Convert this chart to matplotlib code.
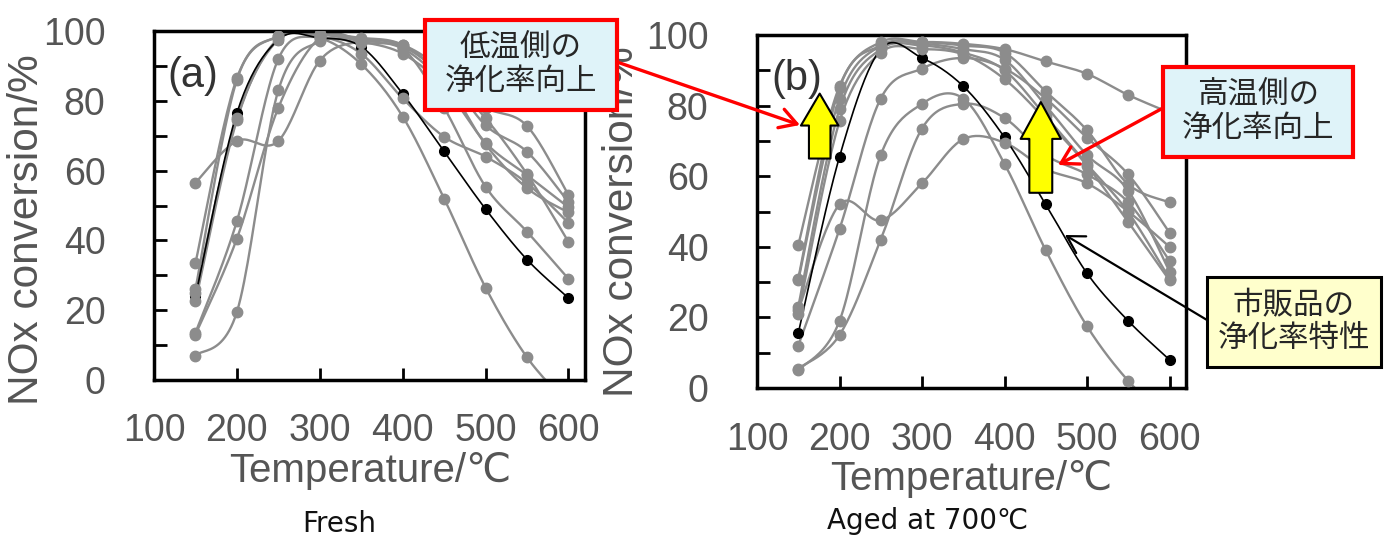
import numpy as np
import matplotlib
matplotlib.use("Agg")
import matplotlib.pyplot as plt
from matplotlib.patches import Rectangle, FancyArrowPatch

# ---------------- data ----------------
temps = [150, 200, 250, 300, 350, 400, 450, 500, 550, 600]
x_ticks = [100, 200, 300, 400, 500, 600]
y_ticks = [0, 20, 40, 60, 80, 100]

# (a) Fresh
fresh_commercial = [24, 76.5, 97.5, 98, 95.5, 82, 65.5, 49, 34.5, 23.5]
fresh_1 = [56.5, 68.5, 68.5, 91.5, 97, 96, 88, 73, 65.4, 51]
fresh_2 = [33.5, 86.5, 98.5, 99, 97.5, 95, 86, 78, 72.8, 53]
fresh_3 = [26, 86, 98.5, 99, 97, 93.5, 84, 68, 58.7, 49.5]
fresh_4 = [22.5, 74.5, 98, 98.5, 93.5, 80.7, 69.7, 64, 56.4, 45]
fresh_5 = [13.5, 45.5, 92, 98.5, 98, 96, 86, 67.5, 55, 48]
fresh_6 = [13, 40.5, 78, 98, 97.5, 95, 78, 55.4, 42.5, 29]
fresh_7 = [7, 19.5, 83, 97, 96.5, 95.5, 87, 75, 59, 39.6]
fresh_8 = [25, 75, 97.5, 98, 90.5, 75.5, 52, 26.5, 6.5, -7]

# (b) Aged at 700 C
aged_commercial = [15.5, 65.5, 96, 93.5, 85.5, 71, 52, 32.5, 19, 8]
aged_1 = [31, 85, 97, 98, 97.5, 96, 92.5, 89, 83, 78]
aged_2 = [5, 19, 66, 80.5, 82, 63.5, 39, 17.5, 2, -9]
aged_3 = [22, 52, 47.5, 58, 70.5, 69.5, 62, 58, 50, 40]
aged_4 = [5.5, 15, 42, 73.5, 80.5, 76.5, 66, 60.5, 52.6, 36]
aged_5 = [12, 45, 82, 90.5, 93.5, 90.5, 82, 70.9, 60.5, 44]
aged_6 = [40.5, 85.5, 98, 98, 97, 95, 84, 73, 57.7, 52.6]
aged_7 = [30.5, 82, 97, 97.5, 96, 93, 80, 66, 55.9, 33]
aged_8 = [23, 79, 96, 97, 95, 90, 77, 63.4, 49.8, 31]
aged_9 = [21, 75.5, 95, 96, 94.5, 87.5, 76, 63, 47, 30.5]

fresh_gray = [fresh_1, fresh_2, fresh_3, fresh_4, fresh_5, fresh_6, fresh_7, fresh_8]
aged_gray = [aged_1, aged_2, aged_3, aged_4, aged_5, aged_6, aged_7, aged_8, aged_9]

# ---------------- style ----------------
plt.rcParams['font.family'] = ['Liberation Sans', 'DejaVu Sans']
CJK = ['Noto Sans CJK JP', 'DejaVu Sans']
GRAY = '#8c8c8c'
TXT = '#555555'

W, H = 1384, 538
fig = plt.figure(figsize=(W / 100, H / 100), dpi=100)


def fx(px):
    return px / W


def fy(py):
    return 1 - py / H


def smooth(x, y, n=24):
    """Excel-style smoothed line (Bezier through the points)."""
    P = np.column_stack([np.asarray(x, float), np.asarray(y, float)])
    out = [P[0]]
    t = np.linspace(0, 1, n)[1:, None]
    for i in range(len(P) - 1):
        p0 = P[i - 1] if i > 0 else P[i]
        p1, p2 = P[i], P[i + 1]
        p3 = P[i + 2] if i + 2 < len(P) else P[i + 1]
        c1 = p1 + (p2 - p0) / 6
        c2 = p2 - (p3 - p1) / 6
        B = (1 - t) ** 3 * p1 + 3 * (1 - t) ** 2 * t * c1 + 3 * (1 - t) * t ** 2 * c2 + t ** 3 * p2
        out.extend(B)
    out = np.array(out)
    return out[:, 0], out[:, 1]


def make_axes(l, t, r, b, xpad, ypad):
    ax = fig.add_axes([fx(l), fy(b), (r - l) / W, (b - t) / H])
    ax.set_xlim(100, 620)
    ax.set_ylim(0, 100)
    ax.set_xticks(x_ticks)
    ax.set_yticks(y_ticks)
    ax.set_yticks([10, 30, 50, 70, 90], minor=True)
    ax.tick_params(which='both', direction='in', length=9, width=2,
                   top=False, right=False, colors='black')
    ax.tick_params(axis='x', labelsize=27, labelcolor=TXT, pad=xpad)
    ax.tick_params(axis='y', labelsize=27, labelcolor=TXT, pad=ypad)
    for s in ax.spines.values():
        s.set_linewidth(2.5)
        s.set_color('black')
    return ax


def draw(ax, gray_list, commercial):
    for ys in gray_list:
        sx, sy = smooth(temps, ys)
        ax.plot(sx, sy, color=GRAY, lw=1.7, zorder=2, solid_capstyle='round')
        ax.plot(temps, ys, 'o', color=GRAY, ms=7.5, zorder=3)
    sx, sy = smooth(temps, commercial)
    ax.plot(sx, sy, color='black', lw=1.2, zorder=2.5)
    ax.plot(temps, commercial, 'o', color='black', ms=7, zorder=2.8)


ax_a = make_axes(154, 31, 585, 380, xpad=23.5, ypad=35)
ax_b = make_axes(757, 35, 1186, 388, xpad=24.5, ypad=35)
draw(ax_a, fresh_gray, fresh_commercial)
draw(ax_b, aged_gray, aged_commercial)

ax_a.text(0.032, 0.87, '(a)', transform=ax_a.transAxes, fontsize=30,
          color='#333333', ha='left', va='center', zorder=6)
ax_b.text(0.034, 0.876, '(b)', transform=ax_b.transAxes, fontsize=30,
          color='#333333', ha='left', va='center', zorder=6)

# axis labels
for cx, cy in [(27, 230), (622, 222)]:
    fig.text(fx(cx), fy(cy), 'NOx conversion/%', rotation=90, fontsize=30.5,
             color=TXT, ha='center', va='center')
for cx, ty in [(370, 452), (971, 460)]:
    fig.text(fx(cx), fy(ty), 'Temperature/\u2103', fontsize=29, color=TXT,
             ha='center', va='top')

fig.text(fx(302), fy(510), 'Fresh', fontsize=20, color='#111111',
         family='DejaVu Sans', ha='left', va='top')
fig.text(fx(827), fy(507), 'Aged at 700\u2103', fontsize=20, color='#111111',
         family='DejaVu Sans', ha='left', va='top')

# yellow arrows in panel (b)
for xa, y0, y1, hw, hl, tw in [(176, 65, 83.4, 27, 23, 15.5), (444, 55.3, 81, 29, 26.5, 16.5)]:
    ax_b.annotate('', xy=(xa, y1), xytext=(xa, y0),
                  arrowprops=dict(arrowstyle='simple,head_length=%g,head_width=%g,tail_width=%g' % (hl / 10, hw / 10, tw / 10),
                                  mutation_scale=10, fc='#ffff00', ec='black', lw=1.5,
                                  shrinkA=0, shrinkB=0),
                  zorder=7)


# annotation boxes
def box(l, t, r, b, text, fc, ec, lw):
    fig.add_artist(Rectangle((fx(l), fy(b)), (r - l) / W, (b - t) / H,
                             transform=fig.transFigure, fc=fc, ec=ec, lw=lw, zorder=10))
    fig.text(fx((l + r) / 2), fy((t + b) / 2), text, fontsize=22, family=CJK,
             color='#262626', ha='center', va='center', linespacing=1.08, zorder=11)


def arrow(p0, p1, color, lw):
    fig.add_artist(FancyArrowPatch((fx(p0[0]), fy(p0[1])), (fx(p1[0]), fy(p1[1])),
                                   transform=fig.transFigure,
                                   arrowstyle='->,head_length=0.6,head_width=0.35',
                                   mutation_scale=20, color=color, lw=lw,
                                   shrinkA=0, shrinkB=0, zorder=9))


arrow((617, 62), (800, 125), '#ff0000', 2.4)
arrow((1163, 108), (1058, 165), '#ff0000', 2.4)
arrow((1207, 320), (1065, 235), 'black', 1.6)

box(425, 20, 617, 110, '低温側の\n浄化率向上', '#dff3f9', '#ff0000', 3)
box(1163, 67, 1353, 157, '高温側の\n浄化率向上', '#dff3f9', '#ff0000', 3)
box(1207, 277, 1381, 367, '市販品の\n浄化率特性', '#ffffcc', 'black', 2.2)

fig.savefig('out.png', dpi=100)
